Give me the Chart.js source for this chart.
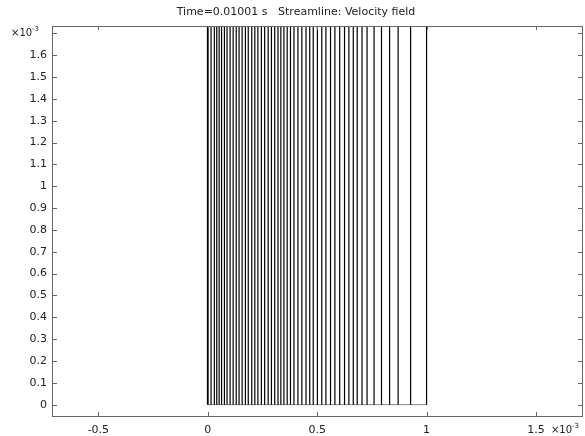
<!DOCTYPE html>
<html>
<head>
<meta charset="utf-8">
<script src="https://cdn.jsdelivr.net/npm/chart.js@4.4.1/dist/chart.umd.min.js"></script>
<style>
  html, body { margin: 0; padding: 0; background: #fff; }
  #wrap { width: 585px; height: 436px; }
</style>
</head>
<body>
<div id="wrap"><canvas id="chart" width="585" height="436"></canvas></div>
<script>
// x in units of 1e-3 (m), read at the top of the plot
const streamX = [
    0, 0.015, 0.030, 0.041, 0.052, 0.063, 0.076, 0.088, 0.102, 0.116,
    0.130, 0.143, 0.157, 0.172, 0.185, 0.201, 0.215, 0.229, 0.245, 0.260,
    0.276, 0.291, 0.306, 0.321, 0.334, 0.348, 0.363, 0.378, 0.394, 0.412,
    0.430, 0.449, 0.466, 0.482, 0.501, 0.521, 0.540, 0.561, 0.581, 0.603,
    0.625, 0.645, 0.665, 0.683, 0.705, 0.728, 0.760, 0.794, 0.831, 0.870,
    0.927, 1.0
];
const streamBottom = 0;
const streamTop = 1.75;
const xTicks = [-0.5, 0, 0.5, 1, 1.5];
const yTicks = [0, 0.1, 0.2, 0.3, 0.4, 0.5, 0.6, 0.7, 0.8, 0.9, 1, 1.1, 1.2, 1.3, 1.4, 1.5, 1.6, 1.7];
const xRange = [-0.712, 1.715];
const yRange = [-0.052, 1.734];
const titleText = 'Time=0.01001 s   Streamline: Velocity field';

const FONT = '"DejaVu Sans", sans-serif';

const datasets = streamX.map((x, i) => ({
    data: [{x: x, y: streamBottom}, {x: x, y: streamTop}],
    borderColor: '#000',
    borderWidth: i === 0 ? 1.8 : 1.2,
    showLine: true,
    pointRadius: 0
}));
// lower boundary of the domain
datasets.push({
    data: [{x: streamX[0], y: streamBottom}, {x: streamX[streamX.length - 1], y: streamBottom}],
    borderColor: '#888',
    borderWidth: 1,
    showLine: true,
    pointRadius: 0
});

const framePlugin = {
    id: 'frame',
    afterDraw(chart) {
        const ctx = chart.ctx;
        const a = chart.chartArea;
        const xs = chart.scales.x;
        const ys = chart.scales.y;
        ctx.save();
        // box
        ctx.strokeStyle = '#666';
        ctx.lineWidth = 1;
        ctx.strokeRect(Math.round(a.left) + 0.5, Math.round(a.top) + 0.5,
            Math.round(a.right - a.left) - 1, Math.round(a.bottom - a.top));
        // inward ticks on all four sides
        ctx.beginPath();
        xTicks.forEach(v => {
            const px = Math.round(xs.getPixelForValue(v)) + 0.5;
            ctx.moveTo(px, a.bottom); ctx.lineTo(px, a.bottom - 4);
            ctx.moveTo(px, a.top); ctx.lineTo(px, a.top + 4);
        });
        yTicks.forEach(v => {
            const py = Math.round(ys.getPixelForValue(v)) + 0.5;
            ctx.moveTo(a.left, py); ctx.lineTo(a.left + 5, py);
            ctx.moveTo(a.right, py); ctx.lineTo(a.right - 5, py);
        });
        ctx.stroke();

        // title
        ctx.fillStyle = '#222';
        ctx.textBaseline = 'middle';
        ctx.textAlign = 'center';
        ctx.font = '11px ' + FONT;
        ctx.fillText(titleText, 296, 12);

        // exponent markers
        ctx.textAlign = 'left';
        const yTop = ys.getPixelForValue(1.7);
        ctx.font = '10px ' + FONT;
        ctx.fillText('×10', 11, yTop);
        ctx.font = '7px ' + FONT;
        ctx.fillText('-3', 32, yTop - 4);

        const xr = xs.getPixelForValue(1.5) + 15;
        const yb = a.bottom + 14;
        ctx.font = '10px ' + FONT;
        ctx.fillText('×10', xr, yb);
        ctx.font = '7px ' + FONT;
        ctx.fillText('-3', xr + 21, yb - 4);
        ctx.restore();
    }
};

const tickLabel = v => {
    const r = Math.round(v * 10) / 10;
    return String(r);
};

new Chart(document.getElementById('chart'), {
    type: 'scatter',
    data: {datasets: datasets},
    options: {
        responsive: false,
        animation: false,
        layout: {padding: {top: 26, right: 2, left: 0, bottom: 0}},
        plugins: {
            legend: {display: false},
            tooltip: {enabled: false},
            title: {display: false}
        },
        scales: {
            x: {
                type: 'linear',
                min: xRange[0],
                max: xRange[1],
                grid: {display: false, drawTicks: false},
                border: {display: false},
                afterBuildTicks: s => { s.ticks = xTicks.map(v => ({value: v})); },
                afterFit: s => { s.height = 20; },
                ticks: {
                    autoSkip: false,
                    maxRotation: 0,
                    padding: 8,
                    color: '#222',
                    font: {family: FONT, size: 11},
                    callback: tickLabel
                }
            },
            y: {
                type: 'linear',
                min: yRange[0],
                max: yRange[1],
                grid: {display: false, drawTicks: false},
                border: {display: false},
                afterBuildTicks: s => { s.ticks = yTicks.map(v => ({value: v})); },
                afterFit: s => { s.width = 52; },
                ticks: {
                    autoSkip: false,
                    padding: 5,
                    color: '#222',
                    font: {family: FONT, size: 11},
                    callback: v => (Math.abs(v - 1.7) < 1e-9 ? '' : tickLabel(v))
                }
            }
        }
    },
    plugins: [framePlugin]
});
</script>
</body>
</html>
